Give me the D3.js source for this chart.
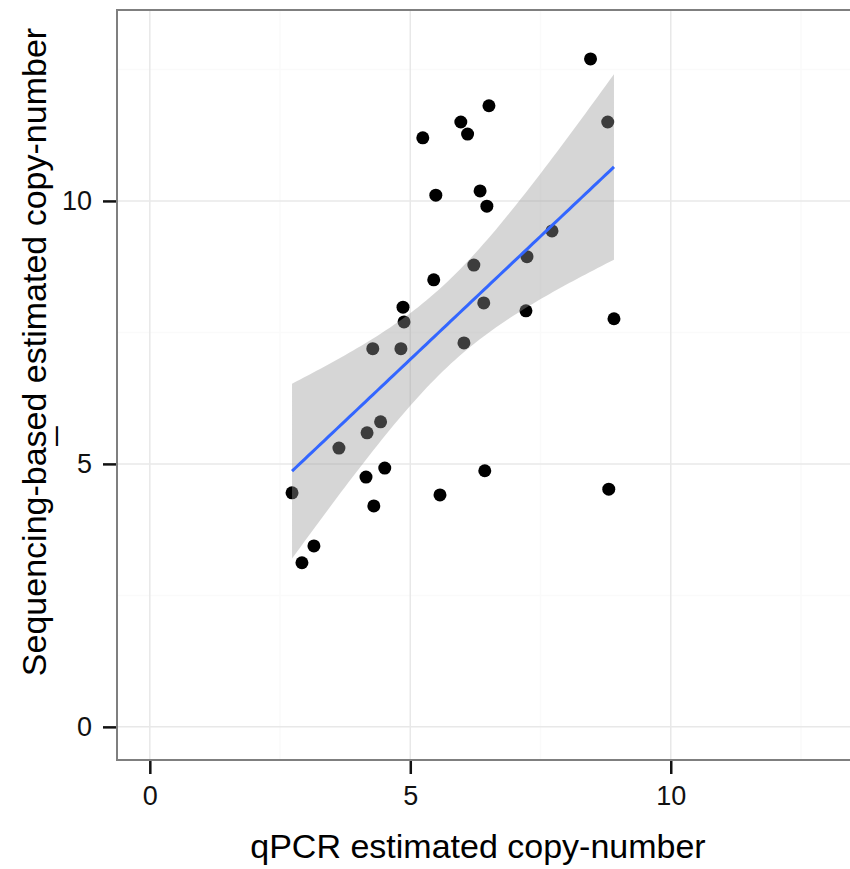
<!DOCTYPE html>
<html>
<head>
<meta charset="utf-8">
<script src="https://cdn.jsdelivr.net/npm/d3@7"></script>
<style>
  body { margin: 0; background: #fff; }
  svg { display: block; }
  text { font-family: "Liberation Sans", Arial, Helvetica, sans-serif; }
</style>
</head>
<body>
<div id="chart"></div>
<script>
// qPCR estimate vs sequencing-based estimate, one entry per sample
var qpcr = [8.46, 5.97, 6.51, 6.10, 5.24, 8.79, 5.49, 6.34, 6.47, 7.72, 7.24,
            6.22, 5.45, 6.41, 7.22, 4.86, 4.88, 8.91, 6.03, 4.28, 4.82, 4.43,
            4.17, 3.63, 4.51, 6.43, 4.15, 2.73, 8.81, 5.57, 4.30, 3.15, 2.92];
var seqCN = [12.70, 11.50, 11.81, 11.27, 11.20, 11.50, 10.11, 10.19, 9.90, 9.43, 8.94,
             8.78, 8.50, 8.06, 7.91, 7.98, 7.70, 7.76, 7.30, 7.19, 7.19, 5.80,
             5.59, 5.30, 4.92, 4.87, 4.75, 4.45, 4.52, 4.41, 4.20, 3.44, 3.12];

var xTicks = [0, 5, 10];
var yTicks = [0, 5, 10];
var xMinor = [2.5, 7.5, 12.5];
var yMinor = [2.5, 7.5, 12.5];

var W = 850, H = 869;
var panel = {left: 117, top: 10, right: 851, bottom: 760};

var svg = d3.select("#chart").append("svg")
  .attr("width", W).attr("height", H);

var x = d3.scaleLinear().domain([-0.63, 13.46]).range([panel.left, panel.right]);
var y = d3.scaleLinear().domain([-0.63, 13.63]).range([panel.bottom, panel.top]);

var data = qpcr.map(function(v, i) { return {x: v, y: seqCN[i]}; });

// grid
var grid = svg.append("g");
grid.selectAll(".vminor").data(xMinor).enter().append("line")
  .attr("x1", function(d) { return x(d); }).attr("x2", function(d) { return x(d); })
  .attr("y1", panel.top).attr("y2", panel.bottom)
  .attr("stroke", "#fafafa").attr("stroke-width", 1.5);
grid.selectAll(".hminor").data(yMinor).enter().append("line")
  .attr("y1", function(d) { return y(d); }).attr("y2", function(d) { return y(d); })
  .attr("x1", panel.left).attr("x2", panel.right)
  .attr("stroke", "#fafafa").attr("stroke-width", 1.5);
grid.selectAll(".vmajor").data(xTicks).enter().append("line")
  .attr("x1", function(d) { return x(d); }).attr("x2", function(d) { return x(d); })
  .attr("y1", panel.top).attr("y2", panel.bottom)
  .attr("stroke", "#e8e8e8").attr("stroke-width", 1.5);
grid.selectAll(".hmajor").data(yTicks).enter().append("line")
  .attr("y1", function(d) { return y(d); }).attr("y2", function(d) { return y(d); })
  .attr("x1", panel.left).attr("x2", panel.right)
  .attr("stroke", "#e8e8e8").attr("stroke-width", 1.5);

// points
svg.append("g").selectAll("circle").data(data).enter().append("circle")
  .attr("cx", function(d) { return x(d.x); })
  .attr("cy", function(d) { return y(d.y); })
  .attr("r", 6.5)
  .attr("fill", "#000");

// linear fit + 95% confidence band (like geom_smooth(method = "lm"))
var n = data.length;
var mx = d3.mean(qpcr), my = d3.mean(seqCN);
var sxx = d3.sum(qpcr, function(v) { return (v - mx) * (v - mx); });
var sxy = d3.sum(data, function(d) { return (d.x - mx) * (d.y - my); });
var slope = sxy / sxx, icpt = my - slope * mx;
var rss = d3.sum(data, function(d) { var r = d.y - (icpt + slope * d.x); return r * r; });
var sigma = Math.sqrt(rss / (n - 2));
var tq = 2.0395; // t(0.975, 31)

var xs = d3.range(80).map(function(i) {
  return d3.min(qpcr) + i * (d3.max(qpcr) - d3.min(qpcr)) / 79;
});
var fit = xs.map(function(v) {
  var f = icpt + slope * v;
  var se = sigma * Math.sqrt(1 / n + (v - mx) * (v - mx) / sxx);
  return {x: v, y: f, lo: f - tq * se, hi: f + tq * se};
});

svg.append("path").datum(fit)
  .attr("d", d3.area()
    .x(function(d) { return x(d.x); })
    .y0(function(d) { return y(d.lo); })
    .y1(function(d) { return y(d.hi); }))
  .attr("fill", "#999999").attr("fill-opacity", 0.4);

svg.append("path").datum(fit)
  .attr("d", d3.line()
    .x(function(d) { return x(d.x); })
    .y(function(d) { return y(d.y); }))
  .attr("fill", "none").attr("stroke", "#3366FF").attr("stroke-width", 3);

// panel border
svg.append("rect")
  .attr("x", panel.left).attr("y", panel.top)
  .attr("width", panel.right - panel.left).attr("height", panel.bottom - panel.top)
  .attr("fill", "none").attr("stroke", "#7f7f7f").attr("stroke-width", 2);

// axes
var xAxis = svg.append("g")
  .attr("transform", "translate(0," + (panel.bottom + 1) + ")")
  .call(d3.axisBottom(x).tickValues(xTicks).tickSize(13).tickPadding(12).tickFormat(d3.format("d")));
var yAxis = svg.append("g")
  .attr("transform", "translate(" + (panel.left - 1) + ",0)")
  .call(d3.axisLeft(y).tickValues(yTicks).tickSize(13).tickPadding(11).tickFormat(d3.format("d")));

[xAxis, yAxis].forEach(function(a) {
  a.select(".domain").remove();
  a.selectAll(".tick line").attr("stroke", "#111").attr("stroke-width", 2.5);
  a.selectAll(".tick text").attr("fill", "#111")
    .style("font-size", "27px")
    .style("font-family", '"Liberation Sans", Arial, Helvetica, sans-serif');
});

// axis titles
svg.append("text")
  .attr("x", 478).attr("y", 858)
  .attr("text-anchor", "middle")
  .style("font-size", "34px")
  .attr("fill", "#000")
  .text("qPCR estimated copy-number");

svg.append("text")
  .attr("transform", "translate(46,352) rotate(-90)")
  .attr("text-anchor", "middle")
  .style("font-size", "34px")
  .attr("fill", "#000")
  .text("Sequencing-based estimated copy-number");

svg.append("text")
  .attr("transform", "translate(51,436) rotate(-90)")
  .attr("text-anchor", "middle")
  .style("font-size", "34px")
  .attr("fill", "#000")
  .text("_");
</script>
</body>
</html>
